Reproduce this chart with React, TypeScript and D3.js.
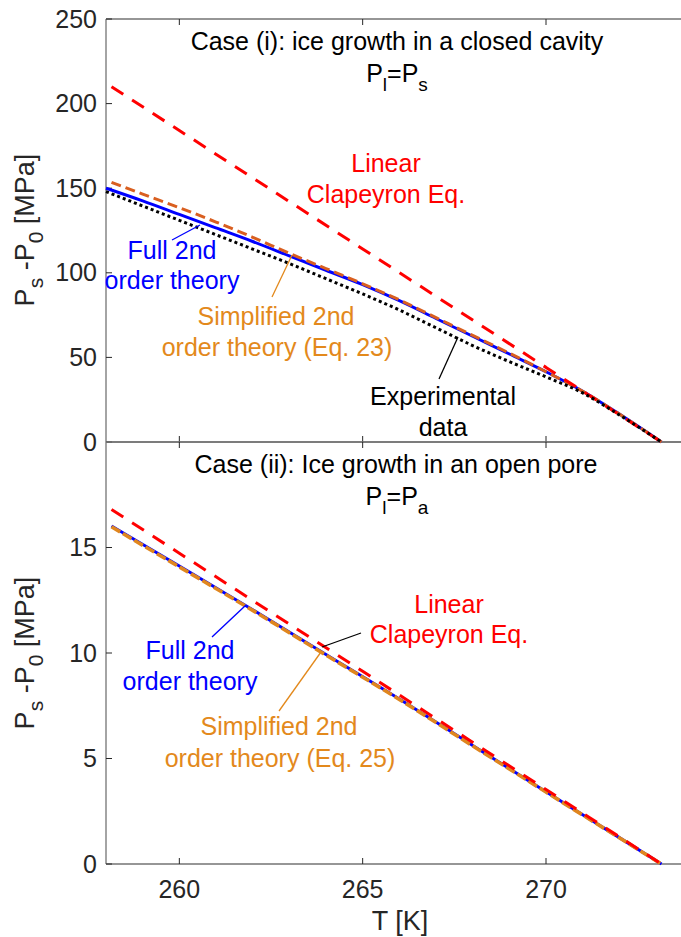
import React from 'react';
import * as d3 from 'd3';

// ---------- Data ----------
// Case (i): closed cavity, Ps - P0 [MPa]
const tempTop = [258, 259, 260, 261, 262, 263, 264, 265, 266, 267, 268, 269, 270, 271, 272, 273.15];
const fullTop = [150, 142.5, 134.5, 126.5, 118.5, 110, 101.5, 93, 83.5, 73, 62.5, 52, 41.5, 30, 16.5, 0];
const expTop = [148, 139.5, 131, 122.5, 114, 105.5, 96.5, 87.5, 78, 67.5, 57, 47.5, 38.5, 29, 16, 0];
const tempSimpTop = [258.15, 259, 260, 261, 262, 263, 264, 265, 266, 267, 268, 269, 270, 271, 272, 273.15];
const simpTop = [153.5, 146.5, 138.5, 130, 121, 111.5, 102.5, 93.5, 84, 73.5, 63, 52.5, 41.5, 30, 16.5, 0];
const tempLinTop = [258.15, 260, 265, 270, 273.15];
const linTop = [210, 184.1, 114.1, 44.1, 0];

// Case (ii): open pore
const tempBot = [258.15, 260, 262, 264, 266, 268, 270, 272, 273.15];
const fullBot = [16.02, 14.12, 12.05, 9.93, 7.82, 5.62, 3.42, 1.25, 0];
const simpBot = [15.98, 14.08, 12.02, 9.9, 7.8, 5.6, 3.41, 1.24, 0];
const tempLinBot = [258.15, 260, 265, 270, 273.15];
const linBot = [16.8, 14.73, 9.13, 3.53, 0];

const xTicks = [260, 265, 270];
const yTicksTop = [0, 50, 100, 150, 200, 250];
const yTicksBot = [0, 5, 10, 15];

// ---------- Layout ----------
const W = 681;
const H = 937;
const LEFT = 106;
const RIGHT = 683.5;
const TOP1 = 19;
const MID = 442;
const BOT2 = 864;

const FONT = "'Liberation Sans', Arial, Helvetica, sans-serif";
const AX = '#737373';
const TXT = '#262626';
const BLUE = '#0000FF';
const RED = '#FF0000';
const ORANGE_LINE_TOP = '#D95F20';
const ORANGE_LINE_BOT = '#E0861E';
const ORANGE_TXT = '#E3891C';
const FS = 25;
const SUB = 19;

const x = d3.scaleLinear().domain([258, 273.75]).range([LEFT, RIGHT]);
const yTop = d3.scaleLinear().domain([0, 250]).range([MID, TOP1]);
const yBot = d3.scaleLinear().domain([0, 20]).range([BOT2, MID]);

function path(xs: number[], ys: number[], y: d3.ScaleLinear<number, number>) {
  const pts: [number, number][] = xs.map((t, i) => [t, ys[i]]);
  return d3.line<[number, number]>().x((d) => x(d[0])).y((d) => y(d[1])).curve(d3.curveMonotoneX)(pts) || '';
}

function Sub({ base, sub, base2, sub2, subSize = SUB, dy = 9 }: any) {
  return (
    <>
      <tspan>{base}</tspan>
      <tspan dy={dy} fontSize={subSize}>{sub}</tspan>
      <tspan dy={-dy}>{base2}</tspan>
      <tspan dy={dy} fontSize={subSize}>{sub2}</tspan>
    </>
  );
}

function Axes({ y, ticks, top, bottom, showXLabels }: any) {
  const tl = 6;
  return (
    <g>
      <line x1={LEFT} x2={LEFT} y1={top} y2={bottom} stroke={AX} strokeWidth={1.3} />
      <line x1={LEFT} x2={RIGHT} y1={top} y2={top} stroke={AX} strokeWidth={1.3} />
      <line x1={LEFT} x2={RIGHT} y1={bottom} y2={bottom} stroke={AX} strokeWidth={1.3} />
      {ticks.map((t: number) => (
        <g key={'y' + t}>
          <line x1={LEFT} x2={LEFT + tl} y1={y(t)} y2={y(t)} stroke={TXT} strokeWidth={1} />
          <text x={LEFT - 9} y={y(t) + 8.5} textAnchor="end" fontSize={FS} fill={TXT} fontFamily={FONT}>
            {t}
          </text>
        </g>
      ))}
      {xTicks.map((t) => (
        <g key={'x' + t}>
          <line x1={x(t)} x2={x(t)} y1={top} y2={top + tl} stroke={TXT} strokeWidth={1} />
          <line x1={x(t)} x2={x(t)} y1={bottom} y2={bottom - tl} stroke={TXT} strokeWidth={1} />
          {showXLabels && (
            <text x={x(t)} y={bottom + 34} textAnchor="middle" fontSize={FS} fill={TXT} fontFamily={FONT}>
              {t}
            </text>
          )}
        </g>
      ))}
    </g>
  );
}

function YLabel({ cy }: { cy: number }) {
  return (
    <text
      transform={`translate(34, ${cy}) rotate(-90)`}
      textAnchor="middle"
      fontSize={27}
      fill={TXT}
      fontFamily={FONT}
    >
      <tspan>P</tspan>
      <tspan dy={9} fontSize={21}>s</tspan>
      <tspan dy={-9}> -P</tspan>
      <tspan dy={9} fontSize={21}>0</tspan>
      <tspan dy={-9}> [MPa]</tspan>
    </text>
  );
}

function T({ x: tx, y: ty, color, children }: any) {
  return (
    <text x={tx} y={ty} textAnchor="middle" fontSize={FS} fill={color} fontFamily={FONT}>
      {children}
    </text>
  );
}

export default function App() {
  React.useEffect(() => {
    document.body.style.margin = '0';
  }, []);
  return (
    <svg width={W} height={H} style={{ position: 'absolute', left: 0, top: 0, background: '#fff' }}>
      <rect width={W} height={H} fill="#fff" />
      <Axes y={yTop} ticks={yTicksTop} top={TOP1} bottom={MID} showXLabels={false} />
      <Axes y={yBot} ticks={yTicksBot} top={MID} bottom={BOT2} showXLabels={true} />

      {/* Top panel curves */}
      <path d={path(tempTop, fullTop, yTop)} fill="none" stroke={BLUE} strokeWidth={3} />
      <path d={path(tempSimpTop, simpTop, yTop)} fill="none" stroke={ORANGE_LINE_TOP} strokeWidth={3} strokeDasharray="10,5" />
      <path d={path(tempLinTop, linTop, yTop)} fill="none" stroke={RED} strokeWidth={3} strokeDasharray="14,10.5" />
      <path d={path(tempTop, expTop, yTop)} fill="none" stroke="#000" strokeWidth={3} strokeDasharray="3,3" />

      {/* Bottom panel curves */}
      <path d={path(tempBot, fullBot, yBot)} fill="none" stroke={BLUE} strokeWidth={3} />
      <path d={path(tempBot, simpBot, yBot)} fill="none" stroke={ORANGE_LINE_BOT} strokeWidth={3.6} strokeDasharray="10,3.2" />
      <path d={path(tempLinBot, linBot, yBot)} fill="none" stroke={RED} strokeWidth={3} strokeDasharray="14,10.5" />

      {/* Top annotations */}
      <T x={397} y={50} color="#000">Case (i): ice growth in a closed cavity</T>
      <text x={397} y={82} textAnchor="middle" fontSize={FS} fill="#000" fontFamily={FONT}>
        <Sub base="P" sub="l" base2="=P" sub2="s" />
      </text>
      <T x={386} y={172} color={RED}>Linear</T>
      <T x={386} y={203} color={RED}>Clapeyron Eq.</T>
      <T x={172} y={259} color={BLUE}>Full 2nd</T>
      <T x={172} y={289} color={BLUE}>order theory</T>
      <line x1={172} y1={240} x2={200} y2={225} stroke={BLUE} strokeWidth={1.3} />
      <T x={276} y={325} color={ORANGE_TXT}>Simplified 2nd</T>
      <T x={277} y={356} color={ORANGE_TXT}>order theory (Eq. 23)</T>
      <line x1={272} y1={297} x2={292} y2={255} stroke={ORANGE_TXT} strokeWidth={1.3} />
      <T x={443} y={405} color="#000">Experimental</T>
      <T x={443} y={436} color="#000">data</T>
      <line x1={439} y1={379} x2={458} y2={337} stroke="#000" strokeWidth={1.3} />

      {/* Bottom annotations */}
      <T x={396} y={473} color="#000">Case (ii): Ice growth in an open pore</T>
      <text x={397} y={505} textAnchor="middle" fontSize={FS} fill="#000" fontFamily={FONT}>
        <Sub base="P" sub="l" base2="=P" sub2="a" />
      </text>
      <T x={449} y={613} color={RED}>Linear</T>
      <T x={449} y={643} color={RED}>Clapeyron Eq.</T>
      <line x1={322} y1={647} x2={361} y2={633} stroke="#000" strokeWidth={1.3} />
      <T x={190} y={659} color={BLUE}>Full 2nd</T>
      <T x={190} y={690} color={BLUE}>order theory</T>
      <line x1={212} y1={637} x2={246} y2={605} stroke={BLUE} strokeWidth={1.3} />
      <T x={279} y={735} color={ORANGE_TXT}>Simplified 2nd</T>
      <T x={280} y={767} color={ORANGE_TXT}>order theory (Eq. 25)</T>
      <line x1={279} y1={711} x2={321} y2={652} stroke={ORANGE_TXT} strokeWidth={1.3} />

      {/* Axis labels */}
      <YLabel cy={230} />
      <YLabel cy={653} />
      <text x={400} y={930} textAnchor="middle" fontSize={27} fill={TXT} fontFamily={FONT}>
        T [K]
      </text>
    </svg>
  );
}
